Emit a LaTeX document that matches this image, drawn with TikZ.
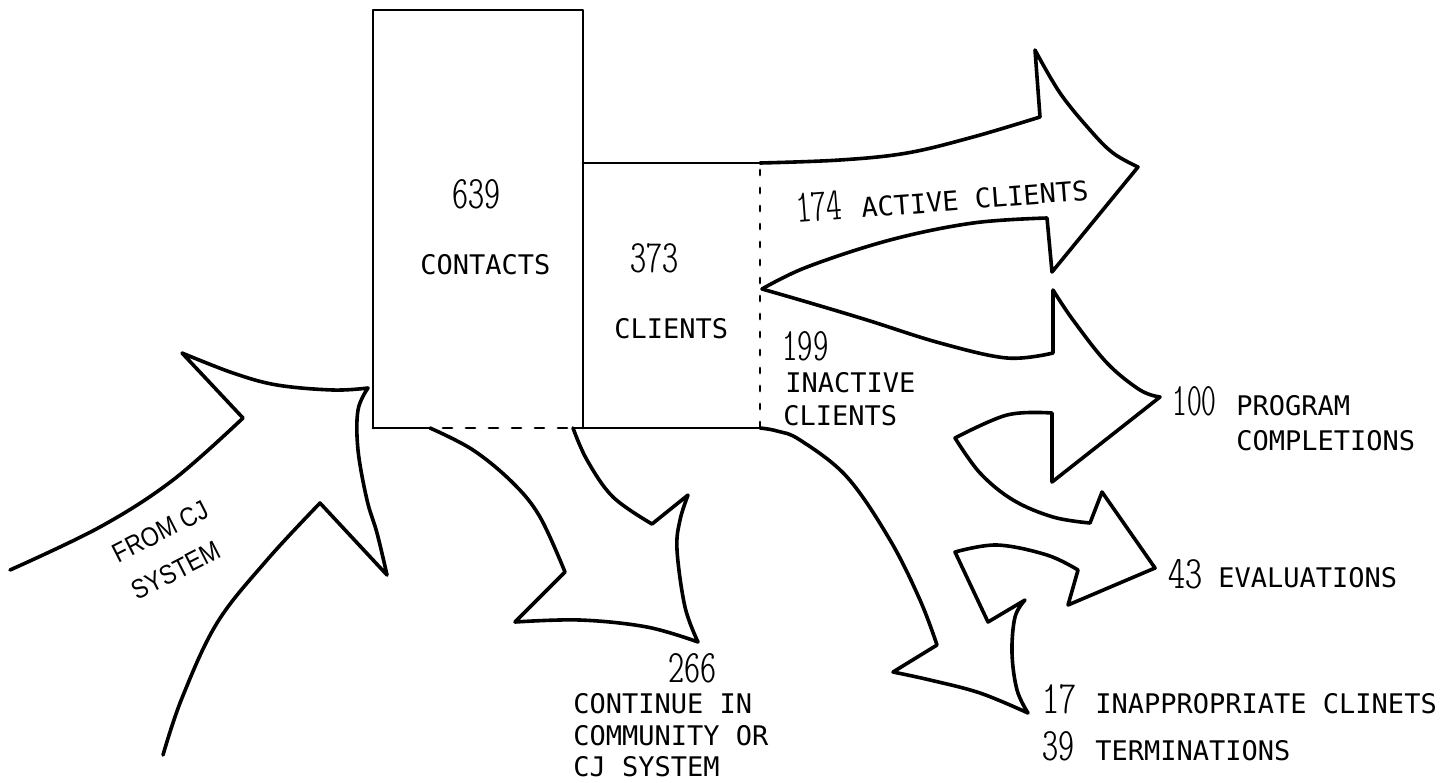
\documentclass[tikz,border=0pt]{standalone}
\usepackage{fontspec}
\setmainfont{Liberation Sans}
\newfontfamily\lab{DejaVu Sans Mono}
\newfontfamily\fromf[FakeStretch=0.86]{Liberation Sans}
\newfontfamily\numf{lmmonoltcond10-regular.otf}
\usepackage{graphicx}
\newcommand\nb[2]{\resizebox{#1}{14.5pt}{\numf #2}}
\begin{document}
\begin{tikzpicture}[x=0.5pt,y=-0.5pt,
  ink/.style={line width=1.8pt, line cap=round, line join=round},
  boxline/.style={line width=1.4pt, line cap=round, line join=round},
  lbl/.style={inner sep=0pt, anchor=base west, font=\lab\fontsize{13.5pt}{16pt}\selectfont},
  num/.style={inner sep=0pt, anchor=base west},
  sans/.style={inner sep=0pt, anchor=center, align=left, font=\fromf\fontsize{13.5pt}{20.8pt}\selectfont, rotate=27}]
\fill[white] (0,0) rectangle (1443,782);
\useasboundingbox (0,0) rectangle (1443,782);

% contacts box
\draw[boxline] (373,428) -- (373,10) -- (583,10) -- (583,428);
\draw[boxline] (373,428) -- (430,428);
\draw[boxline, dash pattern=on 4.5pt off 7pt] (443,428) -- (567,428);
% clients box
\draw[boxline] (583,163) -- (760,163);
\draw[boxline] (573,428) -- (760,428);
\draw[boxline, dash pattern=on 2.5pt off 6.5pt] (760,170) -- (760,428);

% active clients arrow
\draw[ink] plot[smooth, tension=0.6] coordinates {(760,163) (840,160) (907,153) (973,137) (1040,117)}
  -- (1035,50)
  -- plot[smooth, tension=0.6] coordinates {(1035,50) (1060,93) (1090,130) (1113,153) (1138,167)}
  -- (1052,272) -- (1047,218)
  -- plot[smooth, tension=0.6] coordinates {(1047,218) (973,223) (890,240) (807,267) (762,289)};

% inactive -> program completions / evaluations / terminations
\draw[ink] plot[smooth, tension=0.6] coordinates {(762,289) (807,302) (867,320) (940,343) (1007,358) (1053,353)}
  -- (1053,290)
  -- plot[smooth, tension=0.6] coordinates {(1053,290) (1073,320) (1107,363) (1140,390) (1160,397)}
  -- (1052,482) -- (1052,413)
  -- plot[smooth, tension=0.6] coordinates {(1052,413) (1007,415) (955,438)}
  -- plot[smooth, tension=0.6] coordinates {(955,438) (980,473) (1013,500) (1053,517) (1090,523)}
  -- (1102,492) -- (1155,568) -- (1068,605) -- (1078,570)
  -- plot[smooth, tension=0.6] coordinates {(1078,570) (1047,555) (997,545) (955,552)}
  -- (988,622) -- (1025,600)
  -- plot[smooth, tension=0.6] coordinates {(1025,600) (1015,617) (1012,653) (1017,690) (1028,713)}
  -- plot[smooth, tension=0.6] coordinates {(1028,713) (980,693) (930,680) (893,672)}
  -- (937,645)
  -- plot[smooth, tension=0.6] coordinates {(937,645) (920,600) (890,540) (847,477) (800,440) (777,431) (760,428)};

% continue arrow
\draw[ink] plot[smooth, tension=0.6] coordinates {(430,428) (473,450) (513,483) (540,517) (565,572)}
  -- (515,622)
  -- plot[smooth, tension=0.6] coordinates {(515,622) (580,620) (647,627) (698,642)}
  -- plot[smooth, tension=0.6] coordinates {(698,642) (685,607) (677,550) (680,520) (688,495)}
  -- (652,524)
  -- plot[smooth, tension=0.6] coordinates {(652,524) (613,497) (587,460) (573,428)};

% from CJ system arrow
\draw[ink] plot[smooth, tension=0.6] coordinates {(10,570) (100,527) (173,480) (243,418)}
  -- (182,353)
  -- plot[smooth, tension=0.6] coordinates {(182,353) (233,373) (277,385) (333,390) (368,388)}
  -- plot[smooth, tension=0.6] coordinates {(368,388) (358,410) (358,450) (367,500) (377,533) (387,575)}
  -- (320,503)
  -- plot[smooth, tension=0.6] coordinates {(320,503) (267,560) (217,623) (182,698) (163,755)};

% texts
\node[num] (n639) at (452,208) {\nb{24pt}{639}};
\node[lbl] (tcontacts) at (420,274) {CONTACTS};
\node[num] (n373) at (630,272) {\nb{24pt}{373}};
\node[lbl] (tclients) at (614,338) {CLIENTS};
\node[inner sep=0pt, anchor=base west, rotate=4.5] (tactive) at (797,223)
  {\nb{23pt}{174}\hspace{9.5pt}{\lab\fontsize{13.5pt}{16pt}\selectfont ACTIVE CLIENTS}};
\node[num] (n199) at (782,360) {\nb{23pt}{199}};
\node[lbl] (tinactive) at (785,392) {INACTIVE};
\node[lbl] (tinclients) at (783,425) {CLIENTS};
\node[num] (n266) at (668,682) {\nb{24pt}{266}};
\node[lbl] (tcont1) at (573,713) {CONTINUE IN};
\node[lbl] (tcont2) at (573,745) {COMMUNITY OR};
\node[lbl] (tcont3) at (573,776) {CJ SYSTEM};
\node[num] (n100) at (1172,415) {\nb{22pt}{100}};
\node[lbl] (tprog) at (1236,415) {PROGRAM};
\node[lbl] (tcompl) at (1236,450) {COMPLETIONS};
\node[num] (n43) at (1168,588) {\nb{17pt}{43}};
\node[lbl] (teval) at (1218,587) {EVALUATIONS};
\node[num] (n17) at (1042,713) {\nb{17pt}{17}};
\node[lbl] (tinapp) at (1095,713) {INAPPROPRIATE CLINETS};
\node[num] (n39) at (1042,760) {\nb{16pt}{39}};
\node[lbl] (tterm) at (1095,760) {TERMINATIONS};
\node[sans] (tfrom) at (170,550) {FROM CJ\\SYSTEM};
\end{tikzpicture}
\end{document}
